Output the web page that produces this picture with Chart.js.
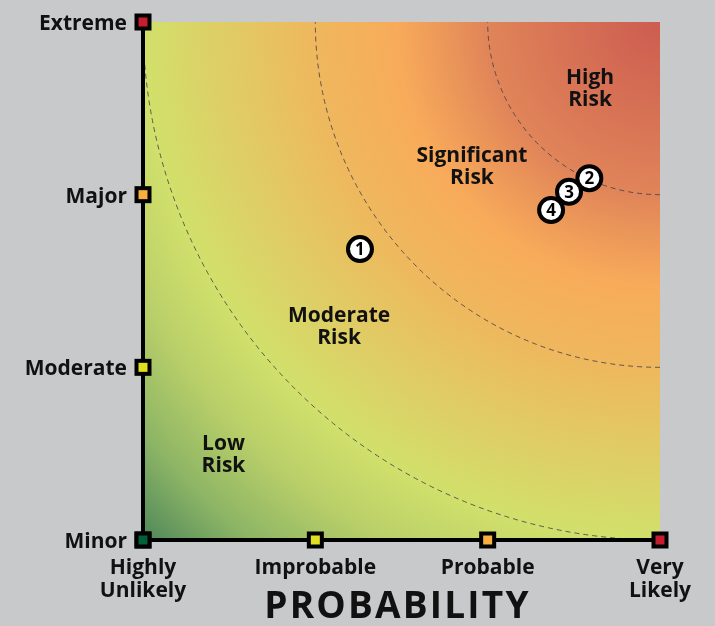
<!DOCTYPE html>
<html>
<head>
<meta charset="utf-8">
<script src="https://cdn.jsdelivr.net/npm/chart.js@4"></script>
<style>
  html, body { margin: 0; padding: 0; background: #c8c9cb; }
  #wrap { width: 715px; height: 626px; }
</style>
</head>
<body>
<div id="wrap"><canvas id="c" width="715" height="626"></canvas></div>
<script>
// ---- data ----
const probLabels = [["Highly", "Unlikely"], "Improbable", "Probable", ["Very", "Likely"]];
const impactLabels = ["Minor", "Moderate", "Major", "Extreme"];
const xTitle = "PROBABILITY";
const tickColors = ["#00603a", "#e0e020", "#f9ae40", "#c41e2e"];
const riskIds = ["1", "4", "3", "2"];
const riskProb = [1.259, 2.368, 2.472, 2.590];
const riskImpact = [1.685, 1.911, 2.017, 2.095];
const zoneNames = [["Low", "Risk"], ["Moderate", "Risk"], ["Significant", "Risk"], ["High", "Risk"]];
const zoneProb = [0.467, 1.138, 1.909, 2.594];
const zoneImpact = [0.498, 1.245, 2.166, 2.623];
const zoneRadii = [1, 2, 3];

const FAMILY = "'Open Sans', 'DejaVu Sans', sans-serif";

const bgPlugin = {
  id: 'bg',
  afterLayout(chart) {
    const s = chart.scales.x;
    if (s && !s._lsPatched) {
      const orig = s.drawTitle.bind(s);
      s.drawTitle = function () {
        const c = this.ctx;
        c.save();
        c.letterSpacing = '2.2px';
        c.translate(-4, 0);
        orig();
        c.restore();
      };
      s._lsPatched = true;
    }
  },
  beforeDraw(chart) {
    const {ctx, chartArea: a, scales} = chart;
    const x = scales.x, y = scales.y;
    const cx = a.right, cy = a.top;
    const R = Math.hypot(a.right - a.left, a.bottom - a.top);
    ctx.save();
    ctx.beginPath();
    ctx.rect(a.left, a.top, a.right - a.left, a.bottom - a.top);
    ctx.clip();
    const g = ctx.createRadialGradient(cx, cy, 0, cx, cy, R);
    g.addColorStop(0.00, '#cc5c50');
    g.addColorStop(0.235, '#e08459');
    g.addColorStop(0.36, '#f8ab5a');
    g.addColorStop(0.47, '#efb75d');
    g.addColorStop(0.707, '#d1e06b');
    g.addColorStop(0.80, '#b9cf69');
    g.addColorStop(0.90, '#8db565');
    g.addColorStop(1.00, '#4f875a');
    ctx.fillStyle = g;
    ctx.fillRect(a.left, a.top, a.right - a.left, a.bottom - a.top);
    // dashed zone arcs centred on the top-right corner
    ctx.strokeStyle = 'rgba(60,60,75,0.8)';
    ctx.lineWidth = 1;
    ctx.setLineDash([5, 4]);
    zoneRadii.forEach(r => {
      const rx = x.getPixelForValue(3) - x.getPixelForValue(3 - r);
      const ry = y.getPixelForValue(3 - r) - y.getPixelForValue(3);
      ctx.beginPath();
      ctx.ellipse(cx, cy, rx, ry, 0, Math.PI / 2, Math.PI);
      ctx.stroke();
    });
    ctx.restore();
  },
  beforeDatasetsDraw(chart) {
    const {ctx, scales} = chart;
    ctx.save();
    ctx.fillStyle = '#111';
    ctx.font = "bold 21px " + FAMILY;
    ctx.textAlign = 'center';
    ctx.textBaseline = 'middle';
    zoneNames.forEach((lines, i) => {
      const px = scales.x.getPixelForValue(zoneProb[i]);
      const py = scales.y.getPixelForValue(zoneImpact[i]);
      const lh = 22;
      lines.forEach((t, j) => {
        ctx.fillText(t, px, py + (j - (lines.length - 1) / 2) * lh + 1.5);
      });
    });
    ctx.restore();
  },
  afterDatasetsDraw(chart) {
    const {ctx} = chart;
    const meta = chart.getDatasetMeta(0);
    ctx.save();
    ctx.fillStyle = '#000';
    ctx.font = "bold 17px " + FAMILY;
    ctx.textAlign = 'center';
    ctx.textBaseline = 'middle';
    meta.data.forEach((el, i) => {
      ctx.fillText(riskIds[i], el.x, el.y + 1);
    });
    ctx.restore();
  },
  afterDraw(chart) {
    const {ctx, scales} = chart;
    const x = scales.x, y = scales.y;
    ctx.save();
    const sq = (px, py, col) => {
      ctx.fillStyle = '#000';
      ctx.fillRect(px - 8.5, py - 8.5, 17, 17);
      ctx.fillStyle = col;
      ctx.fillRect(px - 4.5, py - 4.5, 9, 9);
    };
    x.ticks.forEach(t => sq(x.getPixelForValue(t.value), y.bottom, tickColors[Math.round(t.value)]));
    y.ticks.forEach(t => sq(x.left, y.getPixelForValue(t.value), tickColors[Math.round(t.value)]));
    ctx.restore();
  }
};

new Chart(document.getElementById('c'), {
  type: 'scatter',
  data: {
    datasets: [{
      data: riskProb.map((v, i) => ({x: v, y: riskImpact[i]})),
      pointRadius: 12,
      pointHoverRadius: 12,
      pointBackgroundColor: '#ffffff',
      pointBorderColor: '#000000',
      pointBorderWidth: 4,
      showLine: false
    }]
  },
  options: {
    responsive: false,
    animation: false,
    events: [],
    layout: { padding: { left: 0, top: 22, right: 55, bottom: 0 } },
    plugins: { legend: { display: false }, tooltip: { enabled: false } },
    scales: {
      x: {
        type: 'linear', position: 'bottom', min: 0, max: 3,
        grid: { display: false, drawTicks: false },
        border: { display: true, color: '#000', width: 4 },
        ticks: {
          stepSize: 1, autoSkip: false, maxRotation: 0, minRotation: 0, padding: 16,
          color: '#111',
          font: { family: FAMILY, weight: 'bold', size: 21, lineHeight: 1.12 },
          callback: v => probLabels[Math.round(v)]
        },
        title: {
          display: true, text: xTitle, color: '#111', padding: 0,
          font: { family: FAMILY, weight: 'bold', size: 37, lineHeight: 1 }
        },
        afterFit(s) { s.height = 86; s.paddingLeft = 0; s.paddingRight = 0; }
      },
      y: {
        type: 'linear', position: 'left', min: 0, max: 3,
        grid: { display: false, drawTicks: false },
        border: { display: true, color: '#000', width: 4 },
        ticks: {
          stepSize: 1, autoSkip: false, padding: 16, labelOffset: 2,
          color: '#111',
          font: { family: FAMILY, weight: 'bold', size: 21, lineHeight: 1.12 },
          callback: v => impactLabels[Math.round(v)]
        },
        afterFit(s) { s.width = 143; s.paddingTop = 0; s.paddingBottom = 0; }
      }
    }
  },
  plugins: [bgPlugin]
});
</script>
</body>
</html>
